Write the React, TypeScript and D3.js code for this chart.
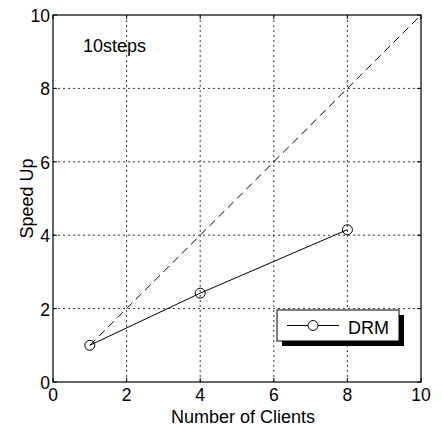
import React from 'react';
import * as d3 from 'd3';

const clients = [1, 4, 8];
const speedUp = [1, 2.42, 4.15];
const ideal = [1, 10];
const ticks = [0, 2, 4, 6, 8, 10];

const W = 442;
const H = 428;
const m = { left: 53, right: 21, top: 15, bottom: 46 };

const App = () => {
  const x = d3.scaleLinear().domain([0, 10]).range([m.left, W - m.right]);
  const y = d3.scaleLinear().domain([0, 10]).range([H - m.bottom, m.top]);

  const line = d3.line<[number, number]>()
    .x((d) => x(d[0]))
    .y((d) => y(d[1]));

  const drm: [number, number][] = clients.map((c, i) => [c, speedUp[i]]);
  const diag: [number, number][] = ideal.map((v) => [v, v]);

  const font = 'Liberation Sans, Arial, sans-serif';
  const x0 = x(0), x1 = x(10), y0 = y(0), y1 = y(10);

  // legend
  const lx = 277, ly = 310, lw = 122, lh = 31;

  return (
    <svg width={W} height={H} style={{ position: 'absolute', left: 0, top: 0 }} fontFamily={font}>
      <rect x={0} y={0} width={W} height={H} fill="white" />
      {ticks.slice(1, -1).map((t) => (
        <g key={t}>
          <line x1={x(t)} x2={x(t)} y1={y0} y2={y1} stroke="#000" strokeWidth={0.8} strokeDasharray="2,3" />
          <line x1={x0} x2={x1} y1={y(t)} y2={y(t)} stroke="#000" strokeWidth={0.8} strokeDasharray="2,3" />
        </g>
      ))}
      {ticks.map((t) => (
        <g key={'t' + t}>
          <line x1={x(t)} x2={x(t)} y1={y0} y2={y0 - 4} stroke="#000" />
          <line x1={x(t)} x2={x(t)} y1={y1} y2={y1 + 4} stroke="#000" />
          <line x1={x0} x2={x0 + 4} y1={y(t)} y2={y(t)} stroke="#000" />
          <line x1={x1} x2={x1 - 4} y1={y(t)} y2={y(t)} stroke="#000" />
          <text x={x(t)} y={y0 + 19} fontSize={17.5} textAnchor="middle">{t}</text>
          <text x={x0 - 3} y={y(t) + 7} fontSize={17.5} textAnchor="end">{t}</text>
        </g>
      ))}
      <rect x={x0} y={y1} width={x1 - x0} height={y0 - y1} fill="none" stroke="#000" strokeWidth={1.2} />
      <path d={line(diag) ?? ''} fill="none" stroke="#000" strokeWidth={1} strokeDasharray="8,5" />
      <path d={line(drm) ?? ''} fill="none" stroke="#000" strokeWidth={1} />
      {drm.map((d, i) => (
        <circle key={i} cx={x(d[0])} cy={y(d[1])} r={5} fill="none" stroke="#000" strokeWidth={1} />
      ))}
      <text x={83} y={52} fontSize={18}>10steps</text>
      <text x={(x0 + x1) / 2 + 6} y={423} fontSize={18} textAnchor="middle">Number of Clients</text>
      <text transform={`translate(33, ${(y0 + y1) / 2}) rotate(-90)`} fontSize={18} textAnchor="middle">Speed Up</text>
      <rect x={lx + 5} y={ly + 5} width={lw} height={lh} fill="#000" />
      <rect x={lx} y={ly} width={lw} height={lh} fill="#fff" stroke="#000" strokeWidth={1} />
      <line x1={lx + 10} x2={lx + 62} y1={ly + lh / 2} y2={ly + lh / 2} stroke="#000" />
      <circle cx={lx + 36} cy={ly + lh / 2} r={5} fill="#fff" stroke="#000" />
      <text x={lx + 71} y={ly + lh / 2 + 8} fontSize={18}>DRM</text>
    </svg>
  );
};

export default App;
